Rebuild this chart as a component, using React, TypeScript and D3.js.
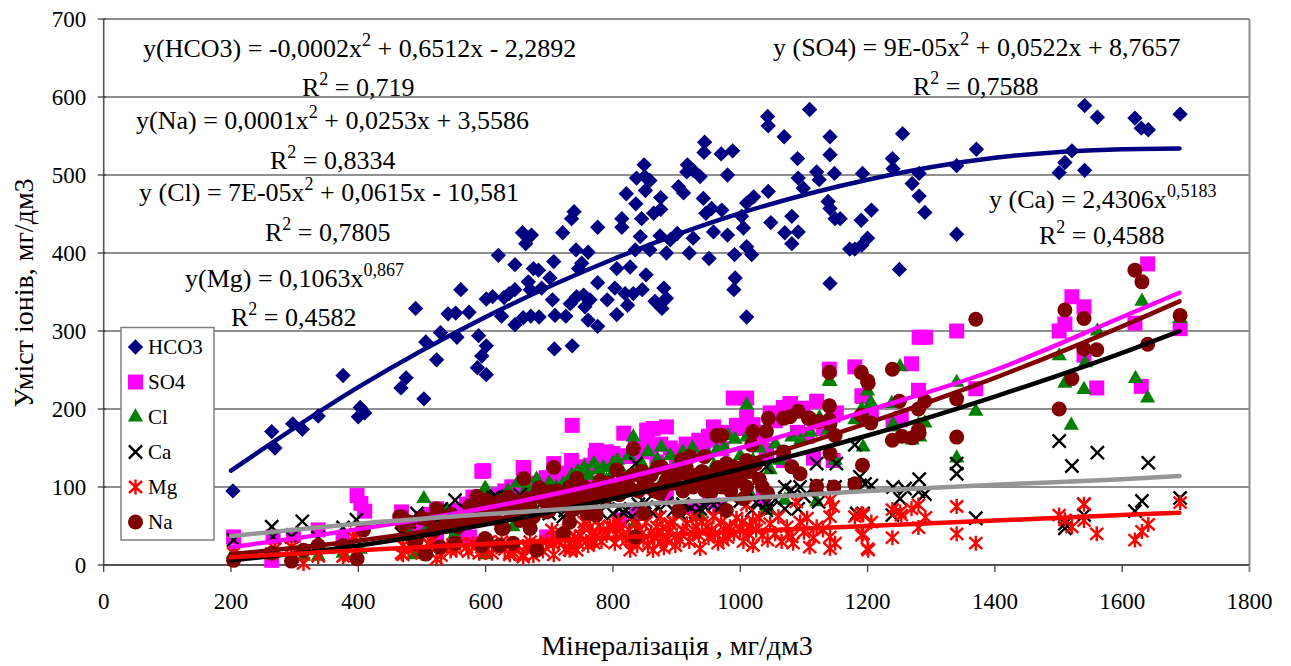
import React from "react";
import * as d3 from "d3";

// values: [мінералізація, вміст]
const hco3: number[][] = [
  [203,95],[264,171],[269,150],[297,181],[312,174],[337,191],[376,243],[400,190],[403,202],[410,195],[467,227],[475,240],[490,329],[503,213],[506,286],[523,263],[529,298],[541,322],[553,323],[555,292],[574,324],[561,353],[589,294],[601,281],[594,268],[587,253],[601,244],[601,341],[611,344],[625,319],[629,343],[637,348],[646,353],[620,397],[646,385],[646,308],[659,317],[671,319],[684,318],[667,363],[670,353],[675,380],[683,378],[658,426],[672,423],[663,412],[707,389],[701,368],[688,355],[705,340],[709,320],[726,319],[733,335],[743,344],[754,346],[764,340],[756,331],[761,314],[776,306],[708,277],[736,281],[721,426],[735,444],[739,453],[776,433],[742,404],[761,401],[751,387],[746,380],[776,362],[791,340],[806,321],[806,380],[827,382],[852,372],[803,355],[819,348],[823,333],[832,348],[846,353],[866,338],[877,329],[884,342],[880,355],[814,444],[814,433],[821,476],[836,463],[845,444],[864,451],[875,456],[875,471],[837,496],[851,480],[858,493],[850,498],[849,513],[843,421],[835,404],[858,404],[874,422],[884,400],[901,425],[890,417],[926,419],[920,400],[951,393],[991,398],[1010,408],[1018,398],[992,368],[990,353],[1010,318],[980,423],[958,427],[1005,432],[1002,447],[971,455],[955,457],[942,470],[946,451],[1010,464],[1021,472],[1044,479],[1048,439],[1081,447],[1070,426],[1091,427],[1081,412],[1141,361],[1149,444],[1138,466],[1141,457],[1172,405],[1091,496],[1099,483],[1120,504],[1124,494],[1148,502],[1090,521],[1141,526],[1141,549],[1069,549],[1043,575],[1044,563],[1109,584],[944,542],[943,529],[970,527],[988,531],[980,500],[917,513],[926,506],[937,498],[916,504],[903,485],[911,477],[1541,589],[1561,574],[1620,573],[1630,560],[1641,558],[1691,578],[1521,531],[1510,516],[1501,503],[1541,506],[1371,533],[1340,512],[1340,424],[1255,553],[1239,521],[1240,508],[1281,502],[1270,489],[1281,473],[1290,452],[1250,379],[1192,502],[1206,455],[1190,442],[1200,419],[1191,410],[1180,405],[1157,444],
];
const so4: number[][] = [
  [204,36],[264,6],[266,36],[298,38],[337,45],[376,32],[398,89],[404,79],[410,69],[468,68],[470,55],[490,50],[500,60],[510,65],[523,72],[523,36],[530,62],[540,68],[552,68],[554,36],[560,70],[565,36],[570,78],[575,36],[580,87],[585,75],[586,87],[594,120],[597,121],[600,80],[610,85],[620,90],[630,95],[641,100],[643,100],[650,88],[659,125],[660,124],[665,100],[675,105],[685,104],[695,112],[696,36],[707,130],[709,109],[720,115],[730,118],[735,134],[736,179],[745,125],[753,126],[759,113],[765,128],[772,141],[774,147],[780,135],[790,145],[795,130],[800,143],[810,140],[811,58],[817,169],[827,139],[835,150],[837,66],[845,145],[853,173],[853,162],[860,150],[863,175],[869,132],[875,155],[884,177],[884,92],[890,150],[900,134],[910,145],[915,155],[926,147],[926,75],[935,160],[942,149],[950,165],[952,83],[958,177],[965,160],[968,75],[971,149],[980,170],[989,214],[994,179],[1000,175],[1010,214],[1010,190],[1020,180],[1030,170],[1036,87],[1041,147],[1041,141],[1047,195],[1055,185],[1068,202],[1068,199],[1068,134],[1078,207],[1079,207],[1090,170],[1099,201],[1105,165],[1115,137],[1120,210],[1130,175],[1146,192],[1146,134],[1140,251],[1151,195],[1180,254],[1191,217],[1193,216],[1206,195],[1240,181],[1251,186],[1253,188],[1269,258],[1280,224],[1281,292],[1291,292],[1340,300],[1370,226],[1501,300],[1510,309],[1521,344],[1540,331],[1540,269],[1560,227],[1620,310],[1630,229],[1640,386],[1691,303],
];
const cl: number[][] = [
  [204,15],[264,15],[314,11],[337,11],[376,15],[403,20],[468,36],[480,40],[489,13],[503,85],[510,50],[525,60],[531,21],[540,70],[552,40],[560,60],[575,75],[590,80],[601,13],[601,96],[599,98],[610,70],[620,85],[635,95],[643,49],[650,105],[665,100],[670,66],[680,110],[690,66],[700,105],[711,100],[722,104],[735,115],[745,120],[755,125],[761,115],[770,130],[777,122],[785,125],[790,109],[795,111],[800,130],[807,134],[816,117],[825,140],[832,164],[835,53],[845,130],[855,145],[863,122],[870,135],[876,151],[879,109],[890,140],[900,130],[910,145],[925,150],[937,62],[942,113],[950,140],[958,126],[963,147],[975,150],[981,166],[992,161],[1000,140],[1010,205],[1010,164],[1015,92],[1020,134],[1030,150],[1041,70],[1047,122],[1055,155],[1062,134],[1070,83],[1081,164],[1095,160],[1110,170],[1120,81],[1124,188],[1125,188],[1138,173],[1140,236],[1141,235],[1149,134],[1180,186],[1190,199],[1191,199],[1193,151],[1200,223],[1205,208],[1206,207],[1238,207],[1239,177],[1240,180],[1251,254],[1270,160],[1280,180],[1282,164],[1290,182],[1340,234],[1340,137],[1370,197],[1501,268],[1510,233],[1520,179],[1540,225],[1542,259],[1561,300],[1621,239],[1631,338],[1640,214],[1691,316],
];
const ca: number[][] = [
  [204,32],[264,49],[266,36],[295,36],[312,56],[337,35],[376,48],[397,58],[468,40],[480,55],[492,66],[510,62],[523,58],[530,72],[552,83],[560,64],[570,70],[580,76],[595,72],[605,80],[612,87],[617,88],[625,82],[640,78],[654,90],[665,84],[675,78],[690,81],[700,66],[710,80],[722,62],[725,70],[735,72],[750,75],[760,66],[765,88],[774,70],[780,68],[790,84],[800,66],[810,72],[816,68],[821,70],[830,62],[836,130],[840,78],[850,80],[863,66],[870,74],[884,79],[895,70],[905,66],[910,78],[921,72],[930,68],[937,72],[945,74],[950,85],[958,77],[970,76],[985,88],[994,105],[1000,82],[1010,96],[1018,70],[1025,80],[1041,126],[1041,79],[1041,70],[1047,72],[1055,84],[1070,100],[1070,72],[1080,96],[1091,72],[1094,100],[1100,88],[1120,130],[1120,102],[1123,81],[1149,100],[1151,130],[1180,154],[1180,102],[1183,66],[1188,113],[1193,66],[1196,104],[1206,102],[1239,64],[1240,100],[1251,85],[1259,98],[1280,94],[1281,110],[1290,91],[1340,130],[1340,117],[1370,60],[1501,159],[1510,53],[1510,47],[1521,127],[1540,78],[1540,64],[1561,144],[1620,69],[1631,82],[1641,131],[1691,86],
];
const mg: number[][] = [
  [204,15],[264,15],[269,21],[295,23],[314,2],[337,11],[376,11],[379,13],[392,36],[397,40],[468,15],[470,13],[470,25],[479,19],[485,22],[500,15],[510,28],[510,27],[515,30],[523,8],[523,23],[530,12],[540,25],[545,18],[554,19],[560,28],[570,23],[573,17],[580,28],[590,15],[594,23],[596,28],[600,18],[605,30],[610,15],[617,23],[625,30],[630,20],[638,13],[638,15],[645,15],[650,25],[659,13],[659,10],[665,22],[670,30],[675,12],[685,25],[690,18],[695,30],[704,45],[706,27],[707,13],[710,35],[715,30],[720,40],[725,20],[730,45],[732,28],[732,19],[738,23],[740,35],[743,19],[745,28],[750,38],[753,49],[755,55],[758,30],[761,25],[764,49],[768,42],[770,28],[774,36],[778,50],[782,30],[785,45],[790,38],[795,50],[800,49],[803,28],[805,40],[808,55],[811,49],[815,38],[821,32],[825,45],[827,19],[830,30],[835,52],[838,25],[842,45],[845,40],[848,32],[852,55],[855,25],[860,42],[863,19],[865,35],[869,49],[874,62],[875,30],[878,48],[880,22],[884,32],[888,42],[890,53],[895,55],[898,25],[900,38],[905,32],[910,45],[916,53],[920,30],[925,60],[926,40],[931,49],[935,38],[937,21],[940,55],[947,49],[950,35],[955,45],[958,62],[960,40],[965,28],[970,55],[973,32],[975,45],[980,35],[984,49],[990,40],[994,60],[1000,45],[1003,55],[1005,30],[1010,77],[1013,40],[1015,50],[1020,57],[1020,25],[1025,45],[1030,60],[1035,38],[1043,32],[1047,53],[1055,40],[1060,62],[1065,30],[1073,49],[1075,40],[1081,36],[1083,28],[1088,81],[1094,55],[1100,42],[1105,60],[1109,23],[1115,35],[1120,49],[1130,45],[1141,83],[1141,62],[1141,36],[1141,21],[1146,75],[1149,28],[1180,62],[1191,66],[1191,38],[1193,64],[1193,40],[1200,21],[1201,19],[1206,55],[1239,71],[1239,35],[1251,68],[1253,64],[1269,72],[1280,77],[1280,48],[1291,61],[1340,75],[1340,40],[1370,28],[1501,64],[1510,58],[1521,49],[1540,78],[1540,57],[1560,40],[1620,32],[1631,43],[1641,52],[1691,80],
];
const na: number[][] = [
  [204,6],[264,15],[295,5],[314,19],[337,25],[376,25],[398,8],[408,45],[465,62],[468,62],[470,52],[480,55],[489,28],[491,32],[500,60],[505,15],[506,14],[510,58],[520,45],[523,72],[528,23],[535,50],[539,57],[545,65],[552,28],[557,49],[560,55],[570,60],[575,75],[585,70],[586,88],[590,60],[594,25],[599,34],[601,83],[601,32],[605,65],[610,72],[615,60],[620,80],[621,25],[622,25],[625,47],[628,47],[630,75],[635,87],[636,87],[640,65],[643,28],[645,75],[650,82],[654,57],[655,70],[660,111],[665,85],[670,47],[670,75],[675,62],[680,19],[680,90],[684,99],[690,85],[695,80],[696,68],[700,70],[701,94],[705,88],[707,125],[712,95],[715,78],[720,85],[722,40],[725,92],[730,80],[732,55],[732,100],[735,70],[740,95],[743,111],[745,85],[748,75],[750,90],[755,100],[759,66],[760,82],[765,92],[770,85],[774,64],[775,100],[780,108],[785,95],[790,88],[795,105],[800,92],[805,100],[806,122],[810,90],[816,109],[820,110],[825,100],[830,115],[832,149],[835,36],[840,95],[845,120],[848,109],[848,66],[855,100],[860,115],[865,95],[870,125],[874,92],[876,126],[880,100],[884,109],[890,120],[895,105],[900,115],[903,70],[908,135],[910,95],[915,125],[916,117],[921,139],[926,100],[930,115],[935,105],[940,120],[944,139],[944,96],[950,110],[955,95],[958,109],[963,166],[965,125],[971,166],[971,100],[975,115],[978,130],[978,70],[985,95],[989,126],[989,105],[995,120],[1000,110],[1005,85],[1010,134],[1010,100],[1015,120],[1018,154],[1020,171],[1025,130],[1030,110],[1035,100],[1041,171],[1043,92],[1044,188],[1068,188],[1068,145],[1078,190],[1081,126],[1091,197],[1094,117],[1107,188],[1109,188],[1120,101],[1123,184],[1140,247],[1140,204],[1140,186],[1141,181],[1141,143],[1147,100],[1149,166],[1180,104],[1190,247],[1190,192],[1192,128],[1200,236],[1201,233],[1205,182],[1239,251],[1239,160],[1250,210],[1254,165],[1270,163],[1280,200],[1280,173],[1281,169],[1290,210],[1340,213],[1340,164],[1370,315],[1501,200],[1510,327],[1521,239],[1540,316],[1540,277],[1560,276],[1620,378],[1631,363],[1640,283],[1691,320],
];

// trend lines read at these x stops
const trendX = [200, 400, 600, 800, 1000, 1200, 1400, 1600, 1690];
const trendHco3 = [121, 228, 318, 392, 451, 494, 522, 533, 534];
const trendNa = [14, 31, 56, 90, 131, 182, 240, 306, 338];
const trendSo4 = [23, 46, 73, 108, 150, 198, 250, 318, 349];
const trendCl = [6, 25, 52, 85, 123, 166, 216, 272, 300];
const trendCa = [37, 53, 65, 76, 85, 95, 103, 110, 114];
const trendMg = [10, 19, 27, 35, 43, 50, 57, 64, 67];

const xTicks = d3.range(0, 1801, 200);
const yTicks = d3.range(0, 701, 100);

const width = 1291;
const height = 666;
const font = "'Liberation Serif', 'Times New Roman', serif";

const x = d3.scaleLinear().domain([0, 1800]).range([103.7, 1249.5]);
const y = d3.scaleLinear().domain([0, 700]).range([565, 19]);

const navy = "#000080";
const magenta = "#ff00ff";
const green = "#008000";
const maroon = "#800000";

const symbolPath = (type: d3.SymbolType, size: number) => d3.symbol().type(type).size(size)() as string;

// excel-style star: a cross with a vertical bar
const starPath = () => {
  const p = d3.path();
  p.moveTo(-6.5, -6);
  p.lineTo(6.5, 6);
  p.moveTo(-6.5, 6);
  p.lineTo(6.5, -6);
  p.moveTo(0, -7.5);
  p.lineTo(0, 7.5);
  return p.toString();
};

const series = [
  { name: "HCO3", data: hco3, d: symbolPath(d3.symbolDiamond2, 150), fill: navy, stroke: "none" },
  { name: "SO4", data: so4, d: symbolPath(d3.symbolSquare, 225), fill: magenta, stroke: "none" },
  { name: "Cl", data: cl, d: symbolPath(d3.symbolTriangle, 100), fill: green, stroke: "none" },
  { name: "Ca", data: ca, d: symbolPath(d3.symbolTimes, 115), fill: "none", stroke: "#000000" },
  { name: "Mg", data: mg, d: starPath(), fill: "none", stroke: "#ff0000" },
  { name: "Na", data: na, d: symbolPath(d3.symbolCircle, 177), fill: maroon, stroke: "none" },
];

const trends = [
  { values: trendHco3, color: navy },
  { values: trendNa, color: maroon },
  { values: trendSo4, color: magenta },
  { values: trendCl, color: "#000000" },
  { values: trendCa, color: "#969696" },
  { values: trendMg, color: "#ff0000" },
];

const trendLine = d3
  .line<number>()
  .x((_, i) => x(trendX[i]))
  .y((d) => y(d))
  .curve(d3.curveMonotoneX);

// text with a raised exponent
const Eq = ({ px, py, before, sup, after = "" }: { px: number; py: number; before: string; sup: string; after?: string }) => (
  <text x={px} y={py} fontSize={26} fontFamily={font} fill="#000">
    {before}
    <tspan dy={-11} fontSize={18}>{sup}</tspan>
    <tspan dy={11}>{after}</tspan>
  </text>
);

export default function App() {
  return (
    <svg width={width} height={height} style={{ position: "absolute", left: 0, top: 0, background: "#fff" }}>
      {/* grid */}
      {yTicks.slice(1, -1).map((t) => (
        <line key={t} x1={x(0)} x2={x(1800)} y1={y(t)} y2={y(t)} stroke="#222" strokeWidth={1.2} />
      ))}
      {/* plot frame */}
      <line x1={x(0)} x2={x(1800)} y1={y(700)} y2={y(700)} stroke="#8c8c8c" strokeWidth={2} />
      <line x1={x(1800)} x2={x(1800)} y1={y(700)} y2={y(0)} stroke="#8c8c8c" strokeWidth={2} />
      <line x1={x(0)} x2={x(1800)} y1={y(0)} y2={y(0)} stroke="#555" strokeWidth={2} />
      <line x1={x(0)} x2={x(0)} y1={y(700)} y2={y(0)} stroke="#555" strokeWidth={1.6} />

      {/* axes */}
      {yTicks.map((t) => (
        <g key={t} transform={`translate(${x(0)},${y(t)})`}>
          <line x1={2} x2={-6} stroke="#333" strokeWidth={1.2} />
          <text x={-17.5} dy="0.34em" textAnchor="end" fontSize={23} fontFamily={font} fill="#000">{t}</text>
        </g>
      ))}
      {xTicks.map((t) => (
        <g key={t} transform={`translate(${x(t)},${y(0)})`}>
          <line y2={7} stroke={t === 1800 ? "#8c8c8c" : "#333"} strokeWidth={t === 1800 ? 2 : 1.2} />
          <text y={44} textAnchor="middle" fontSize={23} fontFamily={font} fill="#000">{t}</text>
        </g>
      ))}
      <text transform="translate(33,293) rotate(-90)" textAnchor="middle" fontSize={28} fontFamily={font} fill="#000">Умiст iонiв, мг/дм3</text>
      <text x={677} y={655} textAnchor="middle" fontSize={28} fontFamily={font} fill="#000">Мінералізація , мг/дм3</text>

      {/* scatter */}
      {series.map((s) => (
        <g key={s.name} fill={s.fill} stroke={s.stroke} strokeWidth={2.4}>
          {s.data.map((p, i) => (
            <path key={i} d={s.d} transform={`translate(${x(p[0])},${y(p[1])})`} />
          ))}
        </g>
      ))}

      {/* trend lines */}
      {trends.map((t, i) => (
        <path key={i} d={trendLine(t.values) as string} fill="none" stroke={t.color} strokeWidth={4.5} strokeLinecap="round" />
      ))}

      {/* equations */}
      <Eq px={143} py={57} before="y(HCO3) = -0,0002x" sup="2" after=" + 0,6512x - 2,2892" />
      <Eq px={302} py={96} before="R" sup="2" after=" = 0,719" />
      <Eq px={136} py={129} before="y(Na) = 0,0001x" sup="2" after=" + 0,0253x + 3,5586" />
      <Eq px={270} py={169} before="R" sup="2" after=" = 0,8334" />
      <Eq px={139} py={201} before="y (Cl) = 7E-05x" sup="2" after=" + 0,0615x - 10,581" />
      <Eq px={265} py={241} before="R" sup="2" after=" = 0,7805" />
      <Eq px={185} py={287} before="y(Mg) = 0,1063x" sup="0,867" />
      <Eq px={231} py={326} before="R" sup="2" after=" = 0,4582" />
      <Eq px={773} py={56} before="y (SO4) = 9E-05x" sup="2" after=" + 0,0522x + 8,7657" />
      <Eq px={913} py={95} before="R" sup="2" after=" = 0,7588" />
      <Eq px={989} py={208} before="y (Ca) = 2,4306x" sup="0,5183" />
      <Eq px={1039} py={244} before="R" sup="2" after=" = 0,4588" />

      {/* legend */}
      <rect x={121} y={327.5} width={93} height={212.5} fill="#fff" stroke="#808080" strokeWidth={1.5} />
      {series.map((s, i) => (
        <g key={s.name} transform={`translate(0,${347 + i * 35})`}>
          <path d={s.d} transform="translate(135.5,0)" fill={s.fill} stroke={s.stroke} strokeWidth={2.4} />
          <text x={148} dy="0.34em" fontSize={21} fontFamily={font} fill="#000">{s.name}</text>
        </g>
      ))}
    </svg>
  );
}
